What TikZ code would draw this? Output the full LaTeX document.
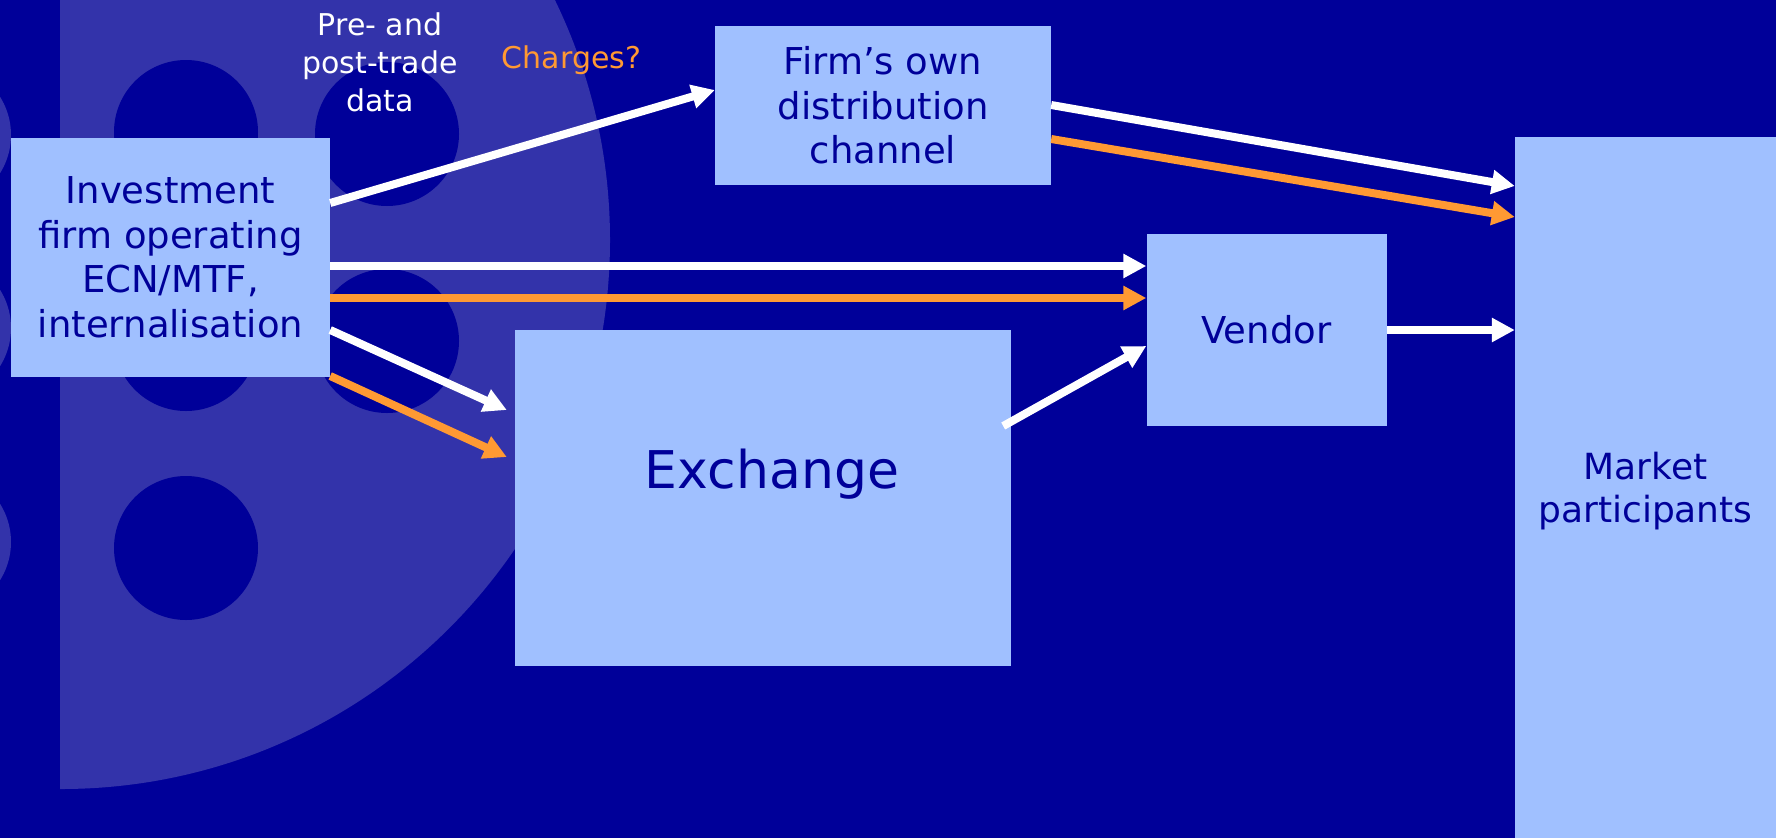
\documentclass[tikz,border=0pt]{standalone}
\usepackage{fontspec}
\setmainfont{DejaVu Sans}
\usetikzlibrary{arrows.meta,calc}
\definecolor{bgblue}{RGB}{0,0,153}
\definecolor{logoblue}{RGB}{51,51,170}
\definecolor{boxblue}{RGB}{160,192,255}
\definecolor{textblue}{RGB}{0,0,153}
\definecolor{orangec}{RGB}{255,153,51}
\begin{document}
\begin{tikzpicture}[x=1pt,y=-1pt,
  box/.style={fill=boxblue, draw=none, inner sep=0pt, text=textblue, align=center,
    font=\fontsize{37}{44.5}\selectfont},
  warrow/.style={draw=white, line width=8pt, -{Triangle[length=23pt,width=23pt]}},
  oarrow/.style={warrow, draw=orangec},
  hole/.style={fill=bgblue},
  lbl/.style={inner sep=0pt, align=center, font=\fontsize{30}{37.8}\selectfont}
]
\useasboundingbox (0,0) rectangle (1776,838);
\fill[bgblue] (0,0) rectangle (1776,838);
% background logo
\begin{scope}
  \clip (60,-400) rectangle (700,838);
  \fill[logoblue] (61,240) circle[radius=549pt];
\end{scope}
\foreach \p in {(186,132),(387,134),(186,339),(387,341),(186,548)}
  \fill[hole] \p circle[radius=72pt];
\foreach \p in {(-61,135),(-61,328),(-61,542)}
  \fill[logoblue] \p circle[radius=72pt];

% labels
\node[lbl, text=white] (predata) at (380,62.5) {Pre- and\\post-trade\\data};
\node[lbl, text=orangec] (charges) at (571.5,60) {Charges?};

% boxes
\node[box, minimum width=319pt, minimum height=239pt] (inv) at (170.5,257.5)
  {Investment\\firm operating\\ECN/MTF,\\internalisation};
\node[box, minimum width=336pt, minimum height=159pt] (firm) at (883,105.5)
  {Firm’s own\\distribution\\channel};
\node[box, minimum width=496pt, minimum height=336pt,
  label={[name=exchtext, inner sep=0pt, text=textblue, font=\fontsize{52}{62}\selectfont,
    xshift=9pt, yshift=23.6pt]center:Exchange}] (exch) at (763,498) {};
\node[box, minimum width=240pt, minimum height=192pt] (vend) at (1266.5,330) {Vendor};
\node[box, minimum width=261pt, minimum height=701pt, text depth=0pt,
  font=\fontsize{36}{43.5}\selectfont] (mkt) at (1645.5,487.5) {Market\\participants};

% connectors
\draw[warrow] (inv.east |- 0,203) -- (firm.west |- 0,90);
\draw[warrow] (inv.east |- 0,266) -- (vend.west |- 0,266);
\draw[oarrow] (inv.east |- 0,298) -- (vend.west |- 0,298);
\draw[warrow] (inv.east |- 0,330) -- ($(exch.west |- 0,410)+(-8,0)$);
\draw[oarrow] (inv.east |- 0,376) -- ($(exch.west |- 0,457)+(-8,0)$);
\draw[warrow] ($(exch.east |- 0,426)+(-8,0)$) -- (vend.west |- 0,346);
\draw[warrow] (firm.east |- 0,105) -- (mkt.west |- 0,186);
\draw[oarrow] (firm.east |- 0,139) -- (mkt.west |- 0,217);
\draw[warrow] (vend.east |- 0,330) -- (mkt.west |- 0,330);
\end{tikzpicture}
\end{document}
